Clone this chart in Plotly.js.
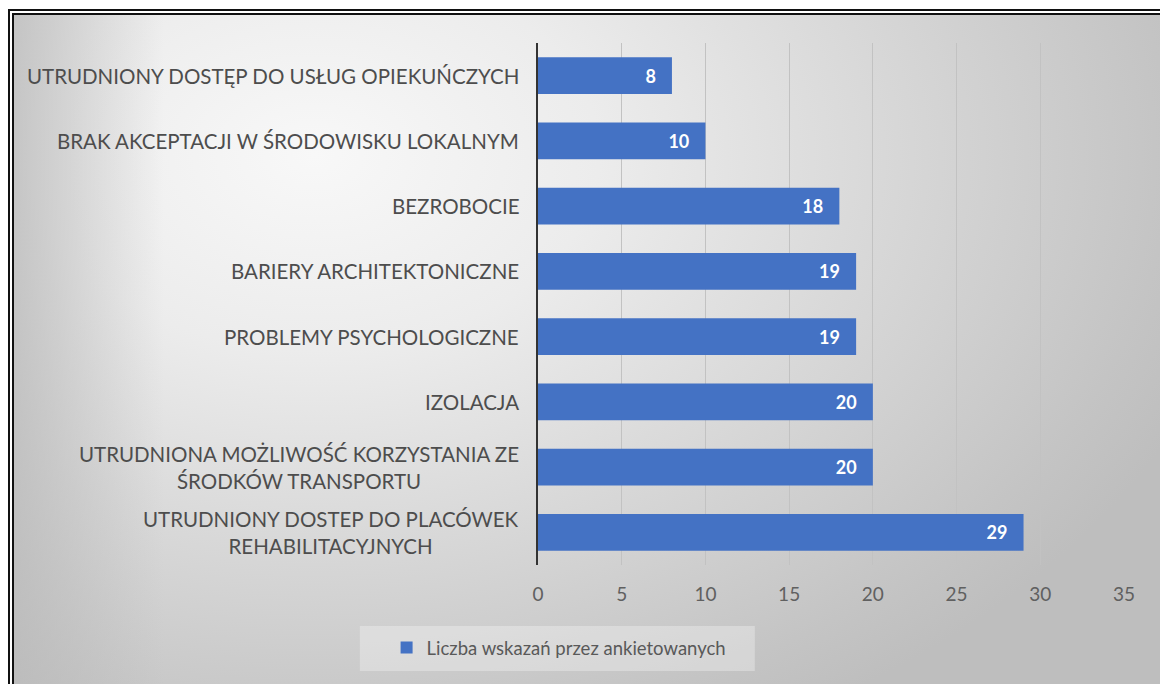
<!DOCTYPE html>
<html><head><meta charset="utf-8">
<script src="https://cdn.plot.ly/plotly-3.0.1.min.js"></script>
<style>
html,body{margin:0;padding:0;width:1160px;height:684px;overflow:hidden;background:#fff;}
#frame{position:absolute;left:8px;top:9px;width:1200px;height:720px;border:2px solid #111;box-sizing:border-box;padding:2px;background:#fff;}
#inner{width:100%;height:100%;border:2px solid #111;box-sizing:border-box;
 background:
  linear-gradient(to right, rgba(185,185,185,0.75) 0px, rgba(185,185,185,0) 150px),
  radial-gradient(ellipse 950px 650px at 300px 140px, #f8f8f8 0%, #ececec 30%, #d8d8d8 60%, #c4c4c4 90%, #bebebe 100%);}
#chart{position:absolute;left:0;top:0;width:1160px;height:684px;}
</style>
</head><body>
<div id="frame"><div id="inner"></div></div>
<div id="chart"></div>
<script>
const categories = [
  "UTRUDNIONY DOSTĘP DO USŁUG OPIEKUŃCZYCH",
  "BRAK AKCEPTACJI W ŚRODOWISKU LOKALNYM",
  "BEZROBOCIE",
  "BARIERY ARCHITEKTONICZNE",
  "PROBLEMY PSYCHOLOGICZNE",
  "IZOLACJA",
  "UTRUDNIONA MOŻLIWOŚĆ KORZYSTANIA ZE<br>ŚRODKÓW TRANSPORTU",
  "UTRUDNIONY DOSTEP DO PLACÓWEK<br>REHABILITACYJNYCH"
];
const values = [8, 10, 18, 19, 19, 20, 20, 29];
const seriesName = "Liczba wskazań przez ankietowanych";
const xTicks = [0, 5, 10, 15, 20, 25, 30, 35];

const FONT = "Lato, 'Open Sans', sans-serif";

const trace = {
  type: "bar",
  orientation: "h",
  y: categories,
  x: values,
  name: seriesName,
  showlegend: true,
  marker: {color: "#4472c4"},
  text: values.map(String),
  texttemplate: "%{x}\u00a0\u00a0\u00a0",
  textposition: "inside",
  insidetextanchor: "end",
  textangle: 0,
  constraintext: "none",
  textfont: {family: FONT, size: 18, color: "#ffffff", weight: "bold"},
  hoverinfo: "none"
};

const annotations = categories.map(c => ({
  xref: "paper", x: 0, yref: "y", y: c,
  text: c, showarrow: false,
  xanchor: "right", yanchor: "middle", align: "center",
  xshift: -17,
  font: {family: FONT, size: 20.5, color: "#4d4d4d"}
}));

const layout = {
  width: 1160, height: 684,
  margin: {l: 538, r: 36, t: 43, b: 119},
  paper_bgcolor: "rgba(0,0,0,0)",
  plot_bgcolor: "rgba(0,0,0,0)",
  bargap: 0.44,
  xaxis: {
    range: [0, 35], tickvals: xTicks, ticktext: xTicks.map(String),
    showgrid: true, gridcolor: "#c2c2c2", gridwidth: 1,
    zeroline: false, showline: false,
    ticks: "outside", ticklen: 12, tickcolor: "rgba(0,0,0,0)",
    tickfont: {family: FONT, size: 19, color: "#606060"}
  },
  yaxis: {
    type: "category", categoryarray: categories, autorange: "reversed",
    showticklabels: false, showgrid: false, zeroline: false,
    showline: true, linecolor: "#333333", linewidth: 2.5, ticks: ""
  },
  showlegend: true,
  legend: {
    orientation: "h", x: 0.036, xanchor: "center", y: -0.159, yanchor: "middle",
    bgcolor: "rgba(0,0,0,0)", font: {family: FONT, size: 18.5, color: "#595959"}
  },
  shapes: [{
    type: "rect", xref: "paper", yref: "paper",
    x0: -0.304, x1: 0.370, y0: -0.117, y1: -0.203,
    fillcolor: "rgba(255,255,255,0.3)", line: {width: 0}, layer: "below"
  }],
  annotations: annotations
};

Plotly.newPlot("chart", [trace], layout, {displayModeBar: false, staticPlot: true});
</script>
</body></html>
